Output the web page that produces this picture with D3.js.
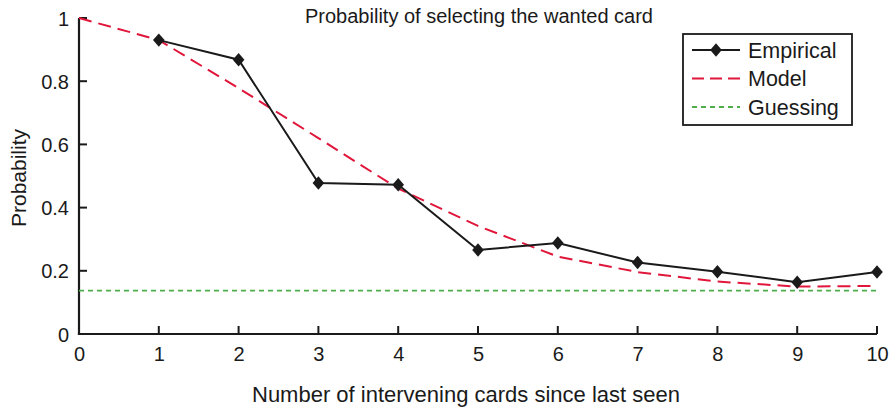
<!DOCTYPE html>
<html>
<head>
<meta charset="utf-8">
<script src="https://cdn.jsdelivr.net/npm/d3@7"></script>
<style>
  html, body { margin: 0; padding: 0; background: #fff; }
  svg { display: block; font-family: "Liberation Sans", Arial, Helvetica, sans-serif; }
</style>
</head>
<body>
<svg id="chart" width="893" height="410"></svg>
<script>
// Intervening cards since the wanted card was last seen
const cardsBetween = [0, 1, 2, 3, 4, 5, 6, 7, 8, 9, 10];
const empiricalX = [1, 2, 3, 4, 5, 6, 7, 8, 9, 10];
const empirical = [0.930, 0.868, 0.478, 0.472, 0.266, 0.288, 0.226, 0.197, 0.164, 0.196];
const model = [1.0, 0.930, 0.778, 0.620, 0.460, 0.342, 0.245, 0.196, 0.166, 0.150, 0.152];
const guessing = 0.137;
const xTicks = [0, 1, 2, 3, 4, 5, 6, 7, 8, 9, 10];
const yTicks = [0, 0.2, 0.4, 0.6, 0.8, 1];

const svg = d3.select("#chart");
const plotLeft = 79, plotRight = 877, plotTop = 18, plotBottom = 334;
const ink = "#1a1a1a";

const x = d3.scaleLinear().domain([0, 10]).range([plotLeft, plotRight]);
const y = d3.scaleLinear().domain([0, 1]).range([plotBottom, plotTop]);

// Axes (labels and axis lines); inward tick marks are drawn below
const xAxis = d3.axisBottom(x).tickValues(xTicks).tickFormat(d3.format("d"))
  .tickSize(0).tickPadding(13);
const yAxis = d3.axisLeft(y).tickValues(yTicks)
  .tickFormat(d => d === 0 || d === 1 ? String(d) : d3.format(".1f")(d))
  .tickSize(0).tickPadding(10);

const gx = svg.append("g").attr("transform", `translate(0,${plotBottom})`).call(xAxis);
const gy = svg.append("g").attr("transform", `translate(${plotLeft},0)`).call(yAxis);
[gx, gy].forEach(g => {
  g.select(".domain").attr("stroke", ink).attr("stroke-width", 2.2);
  g.selectAll(".tick text").attr("fill", ink).style("font-size", "20px")
    .style("font-family", "'Liberation Sans', Arial, sans-serif");
});
gx.selectAll(".tick text").attr("dy", "0.71em");
gy.selectAll(".tick text").attr("dy", "0.35em");
// let the two axis lines meet at the corner
gx.select(".domain").attr("d", `M${plotLeft - 1.1},0H${plotRight}`);
gy.select(".domain").attr("d", `M0,${plotBottom + 1.1}V${plotTop}`);

// Inward tick marks
svg.append("g").selectAll("line").data(xTicks.filter(d => d > 0)).join("line")
  .attr("x1", d => x(d)).attr("x2", d => x(d))
  .attr("y1", plotBottom).attr("y2", plotBottom - 8)
  .attr("stroke", ink).attr("stroke-width", 2);
svg.append("g").selectAll("line").data(yTicks.filter(d => d > 0)).join("line")
  .attr("x1", plotLeft).attr("x2", plotLeft + 8)
  .attr("y1", d => y(d)).attr("y2", d => y(d))
  .attr("stroke", ink).attr("stroke-width", 2);

// Guessing baseline
svg.append("line")
  .attr("x1", x(0)).attr("x2", x(10))
  .attr("y1", y(guessing)).attr("y2", y(guessing))
  .attr("stroke", "#4daf4a").attr("stroke-width", 1.8)
  .attr("stroke-dasharray", "5,4");

// Model curve
const line = d3.line().x(d => x(d[0])).y(d => y(d[1]));
svg.append("path")
  .datum(cardsBetween.map((c, i) => [c, model[i]]))
  .attr("d", line)
  .attr("fill", "none").attr("stroke", "#e0163b").attr("stroke-width", 2)
  .attr("stroke-dasharray", "13,7");

// Empirical curve with diamond markers
const empData = empiricalX.map((c, i) => [c, empirical[i]]);
svg.append("path")
  .datum(empData)
  .attr("d", line)
  .attr("fill", "none").attr("stroke", ink).attr("stroke-width", 2);
const diamond = d3.symbol().type(d3.symbolSquare).size(75);
svg.selectAll(".marker").data(empData).join("path")
  .attr("class", "marker")
  .attr("transform", d => `translate(${x(d[0])},${y(d[1])}) scale(0.95,1.1) rotate(45)`)
  .attr("d", diamond)
  .attr("fill", ink);

// Title
svg.append("text")
  .attr("x", 479).attr("y", 23).attr("text-anchor", "middle")
  .style("font-size", "20px").attr("fill", ink)
  .text("Probability of selecting the wanted card");

// Axis titles
svg.append("text")
  .attr("x", 466).attr("y", 402).attr("text-anchor", "middle")
  .style("font-size", "22px").attr("fill", ink)
  .text("Number of intervening cards since last seen");
svg.append("text")
  .attr("transform", "translate(26,178) rotate(-90)")
  .attr("text-anchor", "middle")
  .style("font-size", "21px").attr("fill", ink)
  .text("Probability");

// Legend
const lg = svg.append("g");
lg.append("rect").attr("x", 683).attr("y", 34).attr("width", 169).attr("height", 91)
  .attr("fill", "#fff").attr("stroke", ink).attr("stroke-width", 1.8);
const legendItems = [
  { label: "Empirical", color: ink, dash: null, width: 2, marker: true },
  { label: "Model", color: "#e0163b", dash: "12,6", width: 2 },
  { label: "Guessing", color: "#4daf4a", dash: "5,4", width: 1.8 }
];
legendItems.forEach((it, i) => {
  const cy = 50 + i * 28.5;
  lg.append("line").attr("x1", 692).attr("x2", 740).attr("y1", cy).attr("y2", cy)
    .attr("stroke", it.color).attr("stroke-width", it.width)
    .attr("stroke-dasharray", it.dash);
  if (it.marker) {
    lg.append("path").attr("transform", `translate(716,${cy}) scale(0.95,1.1) rotate(45)`)
      .attr("d", diamond).attr("fill", it.color);
  }
  lg.append("text").attr("x", 748).attr("y", cy + 7.5)
    .style("font-size", "21.5px").attr("fill", ink).text(it.label);
});
</script>
</body>
</html>
